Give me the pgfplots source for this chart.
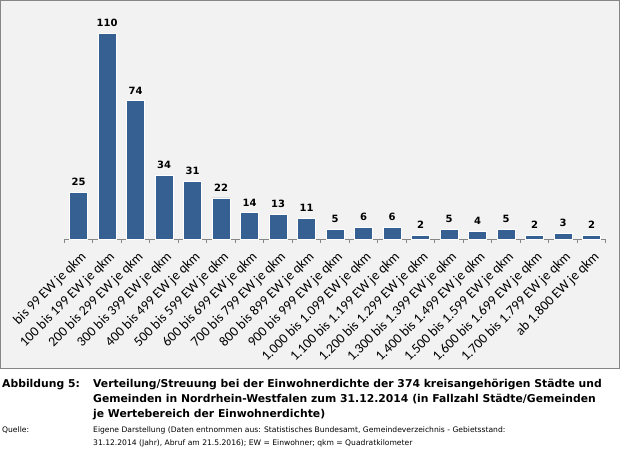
\documentclass[border=0pt]{standalone}
\usepackage{fontspec}
\setmainfont{DejaVu Sans}
\newfontfamily\lblfont{Carlito}
\usepackage{pgfplots}
\pgfplotsset{compat=1.18}
\definecolor{barblue}{RGB}{55,96,146}
\definecolor{bgray}{RGB}{242,242,242}
\definecolor{frame}{RGB}{134,134,134}
\newcommand\tl[1]{{\lblfont\fontsize{13.8bp}{14bp}\selectfont #1}}

\begin{document}
\begin{tikzpicture}[x=1bp,y=-1bp]
\path[use as bounding box, fill=white] (0,0) rectangle (622,450);
\filldraw[fill=bgray, draw=frame, line width=1bp] (0.5,0.5) rectangle (619.5,368.5);

\begin{axis}[
  at={(64.3bp,-239bp)}, anchor=south west,
  scale only axis,
  width=541.5bp, height=224bp,
  xmin=-0.5, xmax=18.5,
  ymin=0, ymax=120,
  axis x line*=bottom,
  axis y line=none,
  x axis line style={frame, line width=0.8bp},
  ybar, bar width=18bp,
  xtick={0,...,18},
  major tick length=0pt,
  xticklabels={\tl{bis 99 EW je qkm},\tl{100 bis 199 EW je qkm},\tl{200 bis 299 EW je qkm},\tl{300 bis 399 EW je qkm},\tl{400 bis 499 EW je qkm},\tl{500 bis 599 EW je qkm},\tl{600 bis 699 EW je qkm},\tl{700 bis 799 EW je qkm},\tl{800 bis 899 EW je qkm},\tl{900 bis 999 EW je qkm},\tl{1.000 bis 1.099 EW je qkm},\tl{1.100 bis 1.199 EW je qkm},\tl{1.200 bis 1.299 EW je qkm},\tl{1.300 bis 1.399 EW je qkm},\tl{1.400 bis 1.499 EW je qkm},\tl{1.500 bis 1.599 EW je qkm},\tl{1.600 bis 1.699 EW je qkm},\tl{1.700 bis 1.799 EW je qkm},\tl{ab 1.800 EW je qkm}},
  xticklabel style={rotate=45, anchor=east, inner sep=0pt, xshift=-7bp, yshift=-15bp},
  extra x ticks={-0.5,0.5,...,18.5},
  extra x tick labels={},
  extra x tick style={tick align=outside, major tick length=4bp, tick style={frame, line width=0.8bp}},
  /pgf/number format/assume math mode=true,
  nodes near coords,
  every node near coord/.append style={font=\bfseries\fontsize{10bp}{12bp}\selectfont, black, yshift=3bp},
  clip=false,
]
\addplot[fill=barblue, draw=white, line width=0.8bp] coordinates {
  (0,25) (1,110) (2,74) (3,34) (4,31) (5,22) (6,14) (7,13) (8,11) (9,5)
  (10,6) (11,6) (12,2) (13,5) (14,4) (15,5) (16,2) (17,3) (18,2)
};
\end{axis}

\begin{scope}[every node/.style={anchor=base west, inner sep=0pt}]
\node[font=\bfseries\fontsize{10.8bp}{12bp}\selectfont] at (2,387) {Abbildung 5:};
\node[font=\bfseries\fontsize{10.8bp}{12bp}\selectfont] at (93,387) {Verteilung/Streuung bei der Einwohnerdichte der 374 kreisangehörigen Städte und};
\node[font=\bfseries\fontsize{10.8bp}{12bp}\selectfont] at (93,402) {Gemeinden in Nordrhein-Westfalen zum 31.12.2014 (in Fallzahl Städte/Gemeinden};
\node[font=\bfseries\fontsize{10.8bp}{12bp}\selectfont] at (93,417) {je Wertebereich der Einwohnerdichte)};
\node[font=\fontsize{7.6bp}{9bp}\selectfont] at (2,432) {Quelle:};
\node[font=\fontsize{7.6bp}{9bp}\selectfont] at (93,432) {Eigene Darstellung (Daten entnommen aus: Statistisches Bundesamt, Gemeindeverzeichnis - Gebietsstand:};
\node[font=\fontsize{7.6bp}{9bp}\selectfont] at (93,445) {31.12.2014 (Jahr), Abruf am 21.5.2016); EW = Einwohner; qkm = Quadratkilometer};
\end{scope}
\end{tikzpicture}
\end{document}
